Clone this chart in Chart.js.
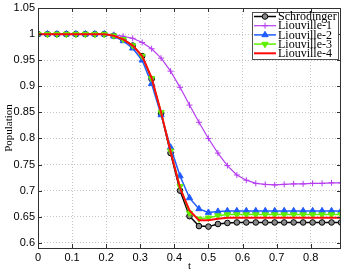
<!DOCTYPE html>
<html>
<head>
<meta charset="utf-8">
<script src="https://cdn.jsdelivr.net/npm/chart.js@4.4.1/dist/chart.umd.min.js"></script>
<style>
  html, body { margin: 0; padding: 0; background: #fff; }
  #wrap { width: 346px; height: 273px; }
</style>
</head>
<body>
<div id="wrap"><canvas id="grafico"></canvas></div>
<script>
// time grid
const tempos = [0, 0.0278, 0.0556, 0.0833, 0.1111, 0.1389, 0.1667, 0.1944, 0.2222, 0.25, 0.2778,
    0.3056, 0.3333, 0.3611, 0.3889, 0.4167, 0.4444, 0.4722, 0.5, 0.5278, 0.5556, 0.5833,
    0.6111, 0.6389, 0.6667, 0.6944, 0.7222, 0.75, 0.7778, 0.8056, 0.8333, 0.8611, 0.8889];

const schrodinger = [1, 1, 1, 1, 1, 1, 1, 1, 0.997, 0.990, 0.978, 0.958, 0.914, 0.848, 0.772, 0.700,
    0.651, 0.632, 0.631, 0.636, 0.638, 0.639, 0.639, 0.639, 0.639, 0.639, 0.639, 0.639, 0.639,
    0.639, 0.639, 0.639, 0.639];
const liouville1 = [1, 1, 1, 1, 1, 1, 1, 1, 0.999, 0.996, 0.992, 0.984, 0.972, 0.954, 0.929, 0.898,
    0.864, 0.831, 0.800, 0.772, 0.748, 0.730, 0.720, 0.714, 0.712, 0.711, 0.712, 0.713, 0.713,
    0.714, 0.714, 0.715, 0.715];
const liouville2 = [1, 1, 1, 1, 1, 1, 1, 1, 0.996, 0.987, 0.973, 0.950, 0.905, 0.845, 0.783, 0.728,
    0.686, 0.665, 0.658, 0.660, 0.661, 0.661, 0.661, 0.661, 0.661, 0.661, 0.661, 0.661, 0.661,
    0.661, 0.661, 0.661, 0.661];
const liouville3 = [1, 1, 1, 1, 1, 1, 1, 1, 0.997, 0.990, 0.978, 0.958, 0.915, 0.850, 0.776, 0.708,
    0.657, 0.646, 0.648, 0.652, 0.654, 0.654, 0.654, 0.654, 0.654, 0.654, 0.654, 0.654, 0.654,
    0.654, 0.654, 0.654, 0.654];
const liouville4 = [1, 1, 1, 1, 1, 1, 1, 1, 0.997, 0.990, 0.978, 0.958, 0.916, 0.850, 0.775, 0.705,
    0.662, 0.643, 0.643, 0.646, 0.648, 0.648, 0.648, 0.648, 0.648, 0.648, 0.648, 0.648, 0.648,
    0.648, 0.648, 0.648, 0.648];

const nomes = ['Schrödinger', 'Liouville-1', 'Liouville-2', 'Liouville-3', 'Liouville-4'];
const xTicks = [0, 0.1, 0.2, 0.3, 0.4, 0.5, 0.6, 0.7, 0.8];
const yTicks = [0.6, 0.65, 0.7, 0.75, 0.8, 0.85, 0.9, 0.95, 1, 1.05];

function pontos(valores) {
    return tempos.map((t, i) => ({ x: t, y: valores[i] }));
}

const estilos = [
    { cor: '#000000', largura: 1.5, ponto: 'circle', raio: 2.8, fundo: '#8a8a8a', rot: 0, ordem: 5 },
    { cor: '#b63ef0', largura: 1.2, ponto: 'cross', raio: 3, fundo: '#b63ef0', rot: 0, ordem: 4 },
    { cor: '#1f5bff', largura: 1.5, ponto: 'triangle', raio: 3.6, fundo: '#1f5bff', rot: 0, ordem: 3 },
    { cor: '#5ff000', largura: 1.5, ponto: 'triangle', raio: 3.6, fundo: '#5ff000', rot: 180, ordem: 2 },
    { cor: '#ff0a0a', largura: 2, ponto: false, raio: 0, fundo: '#ff0a0a', rot: 0, ordem: 1 }
];
const series = [schrodinger, liouville1, liouville2, liouville3, liouville4];

const datasets = series.map((s, i) => ({
    label: nomes[i],
    data: pontos(s),
    borderColor: estilos[i].cor,
    borderWidth: estilos[i].largura,
    pointStyle: estilos[i].ponto,
    pointRadius: estilos[i].raio,
    pointBackgroundColor: estilos[i].fundo,
    pointBorderColor: estilos[i].cor,
    pointBorderWidth: 1,
    pointRotation: estilos[i].rot,
    tension: 0,
    order: estilos[i].ordem
}));

// frame with inward ticks + legend inside the plot
const moldura = {
    id: 'moldura',
    afterDraw(chart) {
        const c = chart.ctx;
        const a = chart.chartArea;
        const sx = chart.scales.x, sy = chart.scales.y;
        c.save();
        c.strokeStyle = '#303030';
        c.lineWidth = 1;
        c.strokeRect(a.left + 0.5, a.top + 0.5, a.right - a.left - 1, a.bottom - a.top);
        c.beginPath();
        xTicks.forEach(v => {
            const px = Math.round(sx.getPixelForValue(v)) + 0.5;
            c.moveTo(px, a.bottom); c.lineTo(px, a.bottom - 4);
            c.moveTo(px, a.top); c.lineTo(px, a.top + 4);
        });
        yTicks.forEach(v => {
            const py = Math.round(sy.getPixelForValue(v)) + 0.5;
            c.moveTo(a.left, py); c.lineTo(a.left + 4, py);
            c.moveTo(a.right, py); c.lineTo(a.right - 4, py);
        });
        c.stroke();

        // legend
        const lx = 252, ly = 12, lw = 86, lh = 47;
        c.fillStyle = '#ffffff';
        c.fillRect(lx, ly, lw, lh);
        c.strokeStyle = '#505050';
        c.strokeRect(lx + 0.5, ly + 0.5, lw, lh);
        c.font = '12px "Liberation Serif", serif';
        c.textBaseline = 'middle';
        c.textAlign = 'left';
        nomes.forEach((n, i) => {
            const y = ly + 4.5 + i * 9.2;
            const e = estilos[i];
            c.strokeStyle = e.cor;
            c.lineWidth = e.largura;
            c.beginPath();
            c.moveTo(lx + 2, y); c.lineTo(lx + 24, y);
            c.stroke();
            if (e.ponto) {
                c.fillStyle = e.fundo;
                c.strokeStyle = e.cor;
                c.lineWidth = 1;
                Chart.helpers.drawPoint(c, { pointStyle: e.ponto, radius: e.raio, rotation: e.rot, borderWidth: 1 }, lx + 13, y);
            }
            c.fillStyle = '#000';
            c.fillText(n, lx + 26, y + 0.5);
        });
        c.restore();
    }
};

new Chart(document.getElementById('grafico'), {
    type: 'line',
    data: { datasets: datasets },
    options: {
        responsive: true,
        maintainAspectRatio: false,
        animation: false,
        layout: { padding: { top: 8, right: 5, left: 0, bottom: 0 } },
        plugins: { legend: { display: false }, tooltip: { enabled: false } },
        scales: {
            x: {
                type: 'linear',
                min: 0,
                max: 0.8889,
                afterFit: s => { s.height = 25; },
                afterBuildTicks: s => { s.ticks = xTicks.map(v => ({ value: v })); },
                ticks: {
                    padding: 3,
                    autoSkip: false,
                    maxRotation: 0,
                    color: '#000',
                    font: { family: '"Liberation Sans", Arial, sans-serif', size: 11 },
                    callback: v => String(v)
                },
                grid: { color: '#c4c4c4', drawTicks: false },
                border: { display: false, dash: [1, 2] },
                title: {
                    display: true,
                    text: 't',
                    color: '#000',
                    font: { family: '"Liberation Serif", serif', size: 11 },
                    padding: { top: 0, bottom: 0 }
                }
            },
            y: {
                type: 'linear',
                min: 0.59,
                max: 1.0501,
                afterFit: s => { s.width = 38; },
                afterBuildTicks: s => { s.ticks = yTicks.map(v => ({ value: v })); },
                ticks: {
                    padding: 3,
                    autoSkip: false,
                    color: '#000',
                    font: { family: '"Liberation Sans", Arial, sans-serif', size: 11, lineHeight: 0.8 },
                    callback: v => String(v)
                },
                grid: { color: '#c4c4c4', drawTicks: false },
                border: { display: false, dash: [1, 2] },
                title: {
                    display: true,
                    text: 'Population',
                    color: '#000',
                    font: { family: '"Liberation Serif", serif', size: 11 },
                    padding: { top: 3, bottom: 0 }
                }
            }
        }
    },
    plugins: [moldura]
});
</script>
</body>
</html>
